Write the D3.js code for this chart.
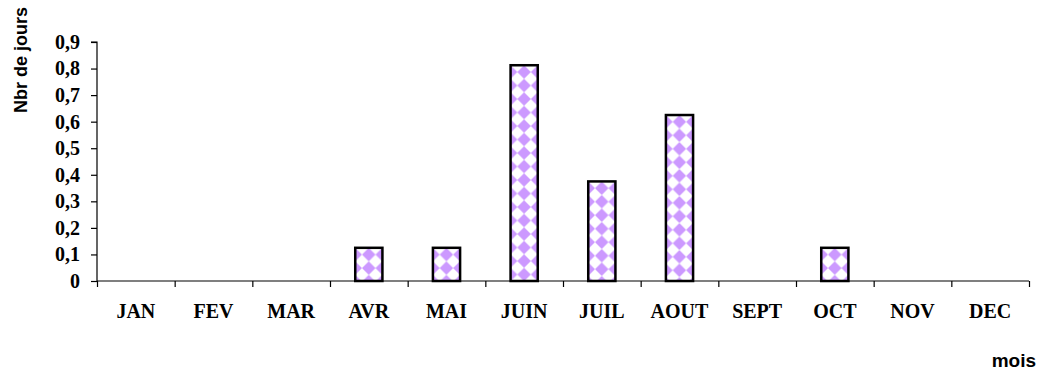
<!DOCTYPE html>
<html>
<head>
<meta charset="utf-8">
<script src="https://cdn.jsdelivr.net/npm/d3@7"></script>
<style>
  html, body { margin: 0; padding: 0; background: #fff; }
  svg { display: block; }
</style>
</head>
<body>
<svg id="chart" width="1041" height="370"></svg>
<script>
// Nombre de jours par mois
const months = ["JAN", "FEV", "MAR", "AVR", "MAI", "JUIN", "JUIL", "AOUT", "SEPT", "OCT", "NOV", "DEC"];
const days = [0, 0, 0, 0.125, 0.125, 0.8125, 0.375, 0.625, 0, 0.125, 0, 0];
const yTicks = [0, 0.1, 0.2, 0.3, 0.4, 0.5, 0.6, 0.7, 0.8, 0.9];

const svg = d3.select("#chart");
const margin = { left: 97, right: 12, top: 42, bottom: 89 };
const W = 1041, H = 370;

const x = d3.scaleBand()
  .domain(months)
  .range([margin.left, W - margin.right])
  .paddingInner(0.65)
  .paddingOuter(0.325);

const y = d3.scaleLinear()
  .domain([0, 0.9])
  .range([H - margin.bottom, margin.top]);

const bars = months.map((m, i) => ({ m, v: days[i], i })).filter(d => d.v > 0);

// Motif en damier (losanges lilas sur fond blanc), calé sur chaque barre
const P = 13.5;
const defs = svg.append("defs");
const pats = defs.selectAll("pattern")
  .data(bars)
  .join("pattern")
  .attr("id", d => `diamonds-${d.i}`)
  .attr("patternUnits", "userSpaceOnUse")
  .attr("x", d => x(d.m))
  .attr("y", d => y(d.v))
  .attr("width", P)
  .attr("height", P);
pats.append("rect").attr("width", P).attr("height", P).attr("fill", "#fff");
pats.append("path")
  .attr("d", `M0,0 L${P / 2},${P / 2} L0,${P} Z M${P},0 L${P / 2},${P / 2} L${P},${P} Z`)
  .attr("fill", "#cc99ff");

// Barres
svg.append("g")
  .selectAll("rect")
  .data(bars)
  .join("rect")
  .attr("x", d => x(d.m))
  .attr("y", d => y(d.v))
  .attr("width", x.bandwidth())
  .attr("height", d => y(0) - y(d.v))
  .attr("fill", d => `url(#diamonds-${d.i})`)
  .attr("stroke", "#000")
  .attr("stroke-width", 2.5);

const serif = "'Liberation Serif', 'Times New Roman', serif";
const sans = "'Liberation Sans', Arial, sans-serif";

// Axe des ordonnées
const yAxis = d3.axisLeft(y)
  .tickValues(yTicks)
  .tickSize(6)
  .tickPadding(11)
  .tickFormat(d => d === 0 ? "0" : d3.format(".1f")(d).replace(".", ","));
const gy = svg.append("g")
  .attr("transform", `translate(${margin.left},0)`)
  .call(yAxis);
gy.select(".domain").attr("d", `M-6,${y(0.9)}H0V${y(0)}`);
gy.selectAll("text")
  .attr("font-family", serif)
  .attr("font-weight", "bold")
  .attr("font-size", 20)
  .attr("fill", "#000");

// Axe des abscisses
const xEdges = d3.axisBottom(d3.scaleLinear().domain([0, 12]).range([margin.left, W - margin.right]))
  .tickValues(d3.range(0, 13))
  .tickSize(6)
  .tickFormat("");
svg.append("g")
  .attr("transform", `translate(0,${y(0)})`)
  .call(xEdges)
  .select(".domain").attr("d", `M${margin.left},0H${W - margin.right}`);

const xAxis = d3.axisBottom(x).tickSize(0).tickPadding(0);
const gx = svg.append("g")
  .attr("transform", `translate(0,${y(0)})`)
  .call(xAxis);
gx.select(".domain").remove();
gx.selectAll("text")
  .attr("dy", null)
  .attr("y", 37)
  .attr("font-family", serif)
  .attr("font-weight", "bold")
  .attr("font-size", 20)
  .attr("fill", "#000");

svg.selectAll(".domain, .tick line").attr("stroke", "#000").attr("stroke-width", 1.2);

// Titres des axes
svg.append("text")
  .attr("transform", "translate(27,60) rotate(-90)")
  .attr("text-anchor", "middle")
  .attr("font-family", sans)
  .attr("font-weight", "bold")
  .attr("font-size", 18)
  .text("Nbr de jours");

svg.append("text")
  .attr("x", 1036)
  .attr("y", 367)
  .attr("text-anchor", "end")
  .attr("font-family", sans)
  .attr("font-weight", "bold")
  .attr("font-size", 19)
  .text("mois");
</script>
</body>
</html>
